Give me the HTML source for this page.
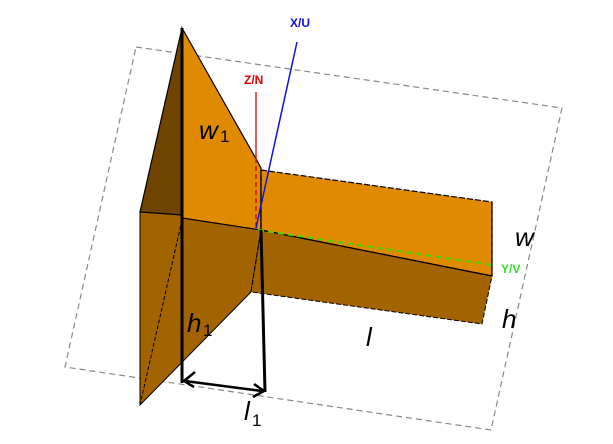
<!DOCTYPE html>
<html><head><style>html,body{margin:0;padding:0;background:#fff}svg{display:block}</style></head>
<body>
<svg width="613" height="444" viewBox="0 0 613 444" xmlns="http://www.w3.org/2000/svg" font-family="Liberation Sans, sans-serif">
<polygon points="136,47 562,108 491,430 65,367" fill="none" stroke="#888" stroke-width="1.2" stroke-dasharray="6,4"/>
<polygon points="140,212 182,215 261,230 251,292 140,405" fill="#a36400" stroke="#000" stroke-width="1"/>
<line x1="182" y1="220" x2="140" y2="405" stroke="#000" stroke-width="1" stroke-dasharray="4,2"/>
<line x1="261" y1="230" x2="251" y2="292" stroke="#000" stroke-width="1" stroke-dasharray="4,2"/>
<polygon points="182,28 140,212 182,215" fill="#6e4400" stroke="#000" stroke-width="1.2"/>
<polygon points="182,28 255,157 261,168 261,230 182,218" fill="#e08a00" stroke="#000" stroke-width="1.2"/>
<polygon points="261,230 492,276 482,324 251,292" fill="#a36400" stroke="#000" stroke-width="1" stroke-dasharray="5,2"/>
<polygon points="261,170 492,202 492,276 261,230" fill="#e08a00" stroke="#000" stroke-width="1.2" stroke-dasharray="6,2"/>
<line x1="492" y1="202" x2="492" y2="276" stroke="#000" stroke-width="1.2"/>
<line x1="261" y1="230" x2="492" y2="276" stroke="#000" stroke-width="1.2"/>
<line x1="261" y1="170" x2="261" y2="230" stroke="#000" stroke-width="1.2"/>
<line x1="256" y1="92" x2="256" y2="158" stroke="#e00000" stroke-width="1.3"/>
<line x1="256" y1="158" x2="256" y2="228" stroke="#e00000" stroke-width="1.3" stroke-dasharray="5,3"/>
<text x="244" y="84" font-size="12" font-weight="bold" fill="#e00000">Z/N</text>
<line x1="297" y1="42" x2="256" y2="228" stroke="#1010e0" stroke-width="1.5"/>
<text x="290" y="27" font-size="12" font-weight="bold" fill="#1010e0">X/U</text>
<line x1="258" y1="230" x2="492" y2="265" stroke="#50d000" stroke-width="2" stroke-dasharray="6,4"/>
<text x="501" y="273" font-size="12" font-weight="bold" fill="#30e030">Y/V</text>
<line x1="182" y1="28" x2="182" y2="383" stroke="#000" stroke-width="3"/>
<line x1="261" y1="230" x2="265" y2="392" stroke="#000" stroke-width="3"/>
<line x1="185" y1="381" x2="262" y2="391" stroke="#000" stroke-width="2.5"/>
<polyline points="195,372 184,381 194,387" fill="none" stroke="#000" stroke-width="2.5"/>
<polyline points="254,384 264,391 253,397" fill="none" stroke="#000" stroke-width="2.5"/>
<text x="199" y="139" font-size="26" font-style="italic">w</text><text x="220" y="142" font-size="17">1</text>
<text x="515" y="246" font-size="26" font-style="italic">w</text>
<text x="502" y="328" font-size="26" font-style="italic">h</text>
<text x="187" y="332" font-size="26" font-style="italic">h</text><text x="203" y="336" font-size="17">1</text>
<text x="366" y="346" font-size="26" font-style="italic">l</text>
<text x="244" y="420" font-size="26" font-style="italic">l</text><text x="252" y="426" font-size="17">1</text>
</svg>
</body></html>
